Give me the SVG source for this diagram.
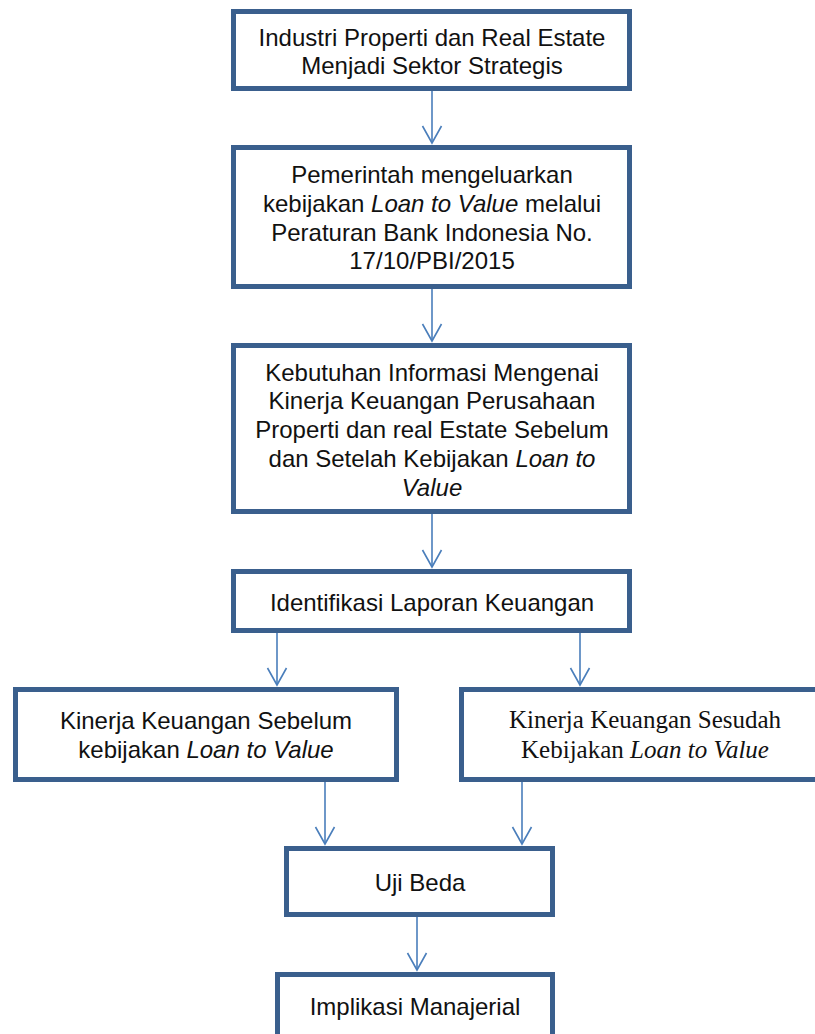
<svg xmlns="http://www.w3.org/2000/svg" width="815" height="1034" viewBox="0 0 815 1034">
<defs>
<style>
.box{fill:#fff;stroke:#3A5F8D;stroke-width:5}
.t{font-family:"Liberation Sans",Arial,sans-serif;font-size:24px;fill:#111;text-anchor:middle}
.s{font-family:"Liberation Serif","Times New Roman",serif;font-size:25px;fill:#111;text-anchor:middle}
.i{font-style:italic}
.c{stroke:#4A7EBB;stroke-width:1.6;fill:none;marker-end:url(#ah)}
</style>
<marker id="ah" markerUnits="userSpaceOnUse" orient="auto" refX="0" refY="0" markerWidth="40" markerHeight="40" viewBox="-20 -20 40 40" overflow="visible">
<path d="M-17,-9.5 L0,0 L-17,9.5" fill="none" stroke="#4A7EBB" stroke-width="1.6"/>
</marker>
</defs>
<rect width="815" height="1034" fill="#fff"/>
<g id="connectors">
<line class="c" x1="432" y1="91" x2="432" y2="143"/>
<line class="c" x1="432" y1="289" x2="432" y2="341"/>
<line class="c" x1="432" y1="514" x2="432" y2="567"/>
<line class="c" x1="277" y1="633" x2="277" y2="685"/>
<line class="c" x1="580" y1="633" x2="580" y2="685"/>
<line class="c" x1="325" y1="782" x2="325" y2="844"/>
<line class="c" x1="522" y1="782" x2="522" y2="844"/>
<line class="c" x1="417" y1="917" x2="417" y2="970"/>
</g>
<g id="n1">
<rect class="box" x="233.5" y="11.5" width="396" height="77"/>
<text class="t" x="432" y="46">Industri Properti dan Real Estate</text>
<text class="t" x="432" y="74">Menjadi Sektor Strategis</text>
</g>
<g id="n2">
<rect class="box" x="233.5" y="147.5" width="396" height="139"/>
<text class="t" x="432" y="183">Pemerintah mengeluarkan</text>
<text class="t" x="432" y="212">kebijakan <tspan class="i">Loan to Value</tspan> melalui</text>
<text class="t" x="432" y="241">Peraturan Bank Indonesia No.</text>
<text class="t" x="432" y="269">17/10/PBI/2015</text>
</g>
<g id="n3">
<rect class="box" x="233.5" y="345.5" width="396" height="166"/>
<text class="t" x="432" y="381">Kebutuhan Informasi Mengenai</text>
<text class="t" x="432" y="409">Kinerja Keuangan Perusahaan</text>
<text class="t" x="432" y="438">Properti dan real Estate Sebelum</text>
<text class="t" x="432" y="467">dan Setelah Kebijakan <tspan class="i">Loan to</tspan></text>
<text class="t i" x="432" y="496">Value</text>
</g>
<g id="n4">
<rect class="box" x="233.5" y="571.5" width="396" height="59"/>
<text class="t" x="432" y="611">Identifikasi Laporan Keuangan</text>
</g>
<g id="n5">
<rect class="box" x="15.5" y="689.5" width="381" height="90"/>
<text class="t" x="206" y="729">Kinerja Keuangan Sebelum</text>
<text class="t" x="206" y="758">kebijakan <tspan class="i">Loan to Value</tspan></text>
</g>
<g id="n6">
<rect class="box" x="461.5" y="689.5" width="370" height="90"/>
<text class="s" x="645" y="728">Kinerja Keuangan Sesudah</text>
<text class="s" x="645" y="758">Kebijakan <tspan class="i">Loan to Value</tspan></text>
</g>
<g id="n7">
<rect class="box" x="286.5" y="848.5" width="266" height="66"/>
<text class="t" x="420" y="891">Uji Beda</text>
</g>
<g id="n8">
<rect class="box" x="277.5" y="974.5" width="275" height="80"/>
<text class="t" x="415" y="1015">Implikasi Manajerial</text>
</g>
</svg>
